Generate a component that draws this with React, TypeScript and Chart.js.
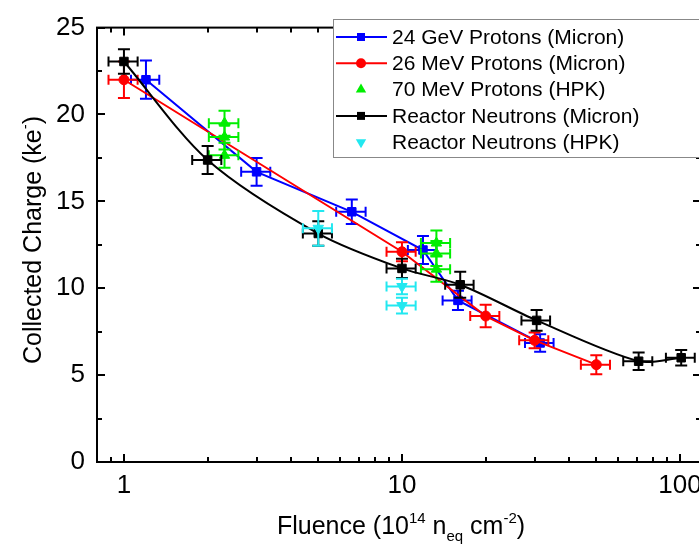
import React, { useEffect, useRef } from 'react';
import { Chart, registerables } from 'chart.js';

Chart.register(...registerables);

const FONT = '"Liberation Sans", Arial, Helvetica, sans-serif';

// 24 GeV Protons (Micron)
const blueFluence = [1.2, 3.0, 6.6, 11.9, 15.9, 31.4];
const blueFluenceErr = [0.14, 0.36, 0.8, 1.4, 1.9, 3.7];
const blueCharge = [22.0, 16.7, 14.4, 12.2, 9.3, 6.85];
const blueChargeErr = [1.1, 0.8, 0.7, 0.8, 0.55, 0.5];

// 26 MeV Protons (Micron)
const redFluence = [1.0, 10.0, 20.0, 30.0, 50.0];
const redFluenceErr = [0.12, 1.2, 2.4, 3.6, 6.0];
const redCharge = [22.0, 12.1, 8.4, 7.0, 5.6];
const redChargeErr = [1.05, 0.55, 0.65, 0.45, 0.55];

// 70 MeV Protons (HPK)
const greenFluence = [2.3, 2.3, 2.3, 13.3, 13.3, 13.3];
const greenFluenceErr = [0.28, 0.28, 0.28, 1.6, 1.6, 1.6];
const greenCharge = [19.5, 18.7, 17.65, 12.6, 12.0, 11.1];
const greenChargeErr = [0.72, 0.72, 0.72, 0.72, 0.72, 0.72];

// Reactor Neutrons (Micron)
const blackFluence = [1.0, 2.0, 5.0, 10.0, 16.2, 30.5, 71.0, 101.0];
const blackFluenceErr = [0.12, 0.24, 0.6, 1.2, 1.9, 3.6, 8.5, 12.0];
const blackCharge = [23.05, 17.38, 13.15, 11.14, 10.2, 8.15, 5.8, 6.0];
const blackChargeErr = [0.7, 0.8, 0.7, 0.55, 0.75, 0.6, 0.5, 0.45];

// Reactor Neutrons (HPK)
const cyanFluence = [5.0, 10.0, 10.0];
const cyanFluenceErr = [0.6, 1.2, 1.2];
const cyanCharge = [13.45, 10.1, 9.0];
const cyanChargeErr = [1.0, 0.45, 0.45];

const seriesLabels = [
  '24 GeV Protons (Micron)',
  '26 MeV Protons (Micron)',
  '70 MeV Protons (HPK)',
  'Reactor Neutrons (Micron)',
  'Reactor Neutrons (HPK)',
];

const xTickValues = [1, 10, 100];
const xMinorValues = [0.9, 2, 3, 4, 5, 6, 7, 8, 9, 20, 30, 40, 50, 60, 70, 80, 90];
const yTickValues = [0, 5, 10, 15, 20, 25];
const yMinorValues = [2.5, 7.5, 12.5, 17.5, 22.5];

type Series = {
  label: string;
  x: number[];
  xe: number[];
  y: number[];
  ye: number[];
  color: string;
  style: string;
  line: boolean;
  radius: number;
  rotation: number;
  tension: number;
};

const series: Series[] = [
  { label: seriesLabels[0], x: blueFluence, xe: blueFluenceErr, y: blueCharge, ye: blueChargeErr, color: '#0000ff', style: 'rect', line: true, radius: 6, rotation: 0, tension: 0 },
  { label: seriesLabels[1], x: redFluence, xe: redFluenceErr, y: redCharge, ye: redChargeErr, color: '#ff0000', style: 'circle', line: true, radius: 5, rotation: 0, tension: 0 },
  { label: seriesLabels[2], x: greenFluence, xe: greenFluenceErr, y: greenCharge, ye: greenChargeErr, color: '#00ee00', style: 'triangle', line: false, radius: 6, rotation: 0, tension: 0 },
  { label: seriesLabels[3], x: blackFluence, xe: blackFluenceErr, y: blackCharge, ye: blackChargeErr, color: '#000000', style: 'rect', line: true, radius: 6, rotation: 0, tension: 0.3 },
  { label: seriesLabels[4], x: cyanFluence, xe: cyanFluenceErr, y: cyanCharge, ye: cyanChargeErr, color: '#22e8f0', style: 'triangle', line: false, radius: 6, rotation: 180, tension: 0 },
];

function drawMarker(ctx: CanvasRenderingContext2D, style: string, rot: number, x: number, y: number, color: string) {
  ctx.save();
  ctx.fillStyle = color;
  ctx.beginPath();
  if (style === 'rect') {
    ctx.rect(x - 4, y - 4, 8, 8);
  } else if (style === 'circle') {
    ctx.arc(x, y, 5, 0, Math.PI * 2);
  } else {
    const s = rot ? -1 : 1;
    ctx.moveTo(x, y - 6 * s);
    ctx.lineTo(x + 5.2, y + 3 * s);
    ctx.lineTo(x - 5.2, y + 3 * s);
    ctx.closePath();
  }
  ctx.fill();
  ctx.restore();
}

type Part = { t: string; size: number; dy: number };

function drawRich(ctx: CanvasRenderingContext2D, parts: Part[], x: number, y: number) {
  let total = 0;
  const widths: number[] = [];
  for (const p of parts) {
    ctx.font = `${p.size}px ${FONT}`;
    const w = ctx.measureText(p.t).width;
    widths.push(w);
    total += w;
  }
  let cx = x - total / 2;
  ctx.textAlign = 'left';
  ctx.textBaseline = 'alphabetic';
  parts.forEach((p, i) => {
    ctx.font = `${p.size}px ${FONT}`;
    ctx.fillText(p.t, cx, y + p.dy);
    cx += widths[i];
  });
}

const errorBarPlugin = {
  id: 'errorBars',
  beforeDatasetDraw(chart: any, args: any) {
    const s = series[args.index];
    if (!s) return;
    const ctx: CanvasRenderingContext2D = chart.ctx;
    const xs = chart.scales.x;
    const ys = chart.scales.y;
    ctx.save();
    ctx.strokeStyle = s.color;
    ctx.lineWidth = 2;
    const cap = 5;
    for (let i = 0; i < s.x.length; i++) {
      const px = xs.getPixelForValue(s.x[i]);
      const py = ys.getPixelForValue(s.y[i]);
      const x1 = xs.getPixelForValue(s.x[i] - s.xe[i]);
      const x2 = xs.getPixelForValue(s.x[i] + s.xe[i]);
      const y1 = ys.getPixelForValue(s.y[i] - s.ye[i]);
      const y2 = ys.getPixelForValue(s.y[i] + s.ye[i]);
      ctx.beginPath();
      ctx.moveTo(x1, py); ctx.lineTo(x2, py);
      ctx.moveTo(x1, py - cap); ctx.lineTo(x1, py + cap);
      ctx.moveTo(x2, py - cap); ctx.lineTo(x2, py + cap);
      ctx.moveTo(px, y1); ctx.lineTo(px, y2);
      ctx.moveTo(px - cap - 1, y1); ctx.lineTo(px + cap + 1, y1);
      ctx.moveTo(px - cap - 1, y2); ctx.lineTo(px + cap + 1, y2);
      ctx.stroke();
    }
    ctx.restore();
  },
};

const framePlugin = {
  id: 'frame',
  afterDraw(chart: any) {
    const ctx: CanvasRenderingContext2D = chart.ctx;
    const a = chart.chartArea;
    const xs = chart.scales.x;
    const ys = chart.scales.y;
    ctx.save();
    ctx.strokeStyle = '#000';
    ctx.lineWidth = 2;
    const major = 8;
    const minor = 5;
    ctx.beginPath();
    const xt = (v: number, len: number) => {
      const p = Math.round(xs.getPixelForValue(v));
      ctx.moveTo(p, a.bottom); ctx.lineTo(p, a.bottom - len);
      ctx.moveTo(p, a.top); ctx.lineTo(p, a.top + len);
    };
    const yt = (v: number, len: number) => {
      const p = Math.round(ys.getPixelForValue(v));
      ctx.moveTo(a.left, p); ctx.lineTo(a.left + len, p);
      ctx.moveTo(a.right, p); ctx.lineTo(a.right - len, p);
    };
    xTickValues.forEach((v) => xt(v, major));
    xMinorValues.forEach((v) => xt(v, minor));
    yTickValues.forEach((v) => yt(v, major));
    yMinorValues.forEach((v) => yt(v, minor));
    ctx.stroke();
    ctx.strokeRect(a.left, a.top, a.right - a.left, a.bottom - a.top);

    // legend
    const lx = 333;
    const ly = 19;
    ctx.fillStyle = '#fff';
    ctx.fillRect(lx, ly, 420, 138);
    ctx.strokeStyle = '#888';
    ctx.lineWidth = 1;
    ctx.strokeRect(lx + 0.5, ly + 0.5, 420, 138);
    series.forEach((s, i) => {
      const ry = 37 + i * 26.3;
      if (s.line) {
        ctx.strokeStyle = s.color;
        ctx.lineWidth = 2;
        ctx.beginPath();
        ctx.moveTo(336, ry); ctx.lineTo(387, ry);
        ctx.stroke();
      }
      drawMarker(ctx, s.style, s.rotation, 361, ry, s.color);
      ctx.fillStyle = '#000';
      ctx.font = `21px ${FONT}`;
      ctx.textAlign = 'left';
      ctx.textBaseline = 'middle';
      ctx.fillText(s.label, 392, ry + 1);
    });

    // axis titles
    ctx.fillStyle = '#000';
    drawRich(ctx, [
      { t: 'Fluence (10', size: 25, dy: 0 },
      { t: '14', size: 15, dy: -11 },
      { t: ' n', size: 25, dy: 0 },
      { t: 'eq', size: 15, dy: 7 },
      { t: ' cm', size: 25, dy: 0 },
      { t: '-2', size: 15, dy: -11 },
      { t: ')', size: 25, dy: 0 },
    ], 401, 534);

    ctx.save();
    ctx.translate(41, 240);
    ctx.rotate(-Math.PI / 2);
    drawRich(ctx, [
      { t: 'Collected Charge (ke', size: 25, dy: 0 },
      { t: '-', size: 15, dy: -11 },
      { t: ')', size: 25, dy: 0 },
    ], 0, 0);
    ctx.restore();
    ctx.restore();
  },
};

export default function App() {
  const ref = useRef<HTMLCanvasElement>(null);
  useEffect(() => {
    document.body.style.margin = '0';
    document.body.style.overflow = 'hidden';
    const canvas = ref.current!;
    const datasets = series.map((s, i) => ({
      label: s.label,
      data: s.x.map((x, j) => ({ x, y: s.y[j] })),
      showLine: s.line,
      borderColor: s.color,
      backgroundColor: s.color,
      borderWidth: 2,
      pointStyle: s.style,
      pointRadius: s.radius,
      pointRotation: s.rotation,
      pointBorderWidth: 1,
      pointBorderColor: s.color,
      pointBackgroundColor: s.color,
      tension: s.tension,
      order: series.length - i,
    }));
    const chart = new Chart(canvas, {
      type: 'scatter',
      data: { datasets } as any,
      options: {
        animation: false,
        responsive: false,
        maintainAspectRatio: false,
        devicePixelRatio: 1,
        layout: { padding: { top: 17, right: 9, left: 0, bottom: 0 } },
        plugins: { legend: { display: false }, tooltip: { enabled: false } },
        scales: {
          x: {
            type: 'logarithmic',
            min: 0.8,
            max: 119,
            grid: { display: false, drawTicks: false },
            border: { display: false },
            afterBuildTicks: (s: any) => {
              s.ticks = xTickValues.map((v) => ({ value: v }));
            },
            afterFit: (s: any) => {
              s.height = 87;
            },
            ticks: {
              callback: (v: any) => String(v),
              font: { family: FONT, size: 26 },
              color: '#000',
              padding: 8,
              maxRotation: 0,
              autoSkip: false,
            },
          },
          y: {
            min: 0,
            max: 25,
            grid: { display: false, drawTicks: false },
            border: { display: false },
            afterBuildTicks: (s: any) => {
              s.ticks = yTickValues.map((v) => ({ value: v }));
            },
            afterFit: (s: any) => {
              s.width = 97;
            },
            ticks: {
              font: { family: FONT, size: 26 },
              color: '#000',
              padding: 12,
            },
          },
        },
      } as any,
      plugins: [errorBarPlugin, framePlugin],
    });
    return () => chart.destroy();
  }, []);
  return (
    <div style={{ width: 699, height: 549, overflow: 'hidden', position: 'relative', background: '#fff' }}>
      <canvas ref={ref} width={710} height={549} style={{ display: 'block', width: 710, height: 549 }} />
    </div>
  );
}
